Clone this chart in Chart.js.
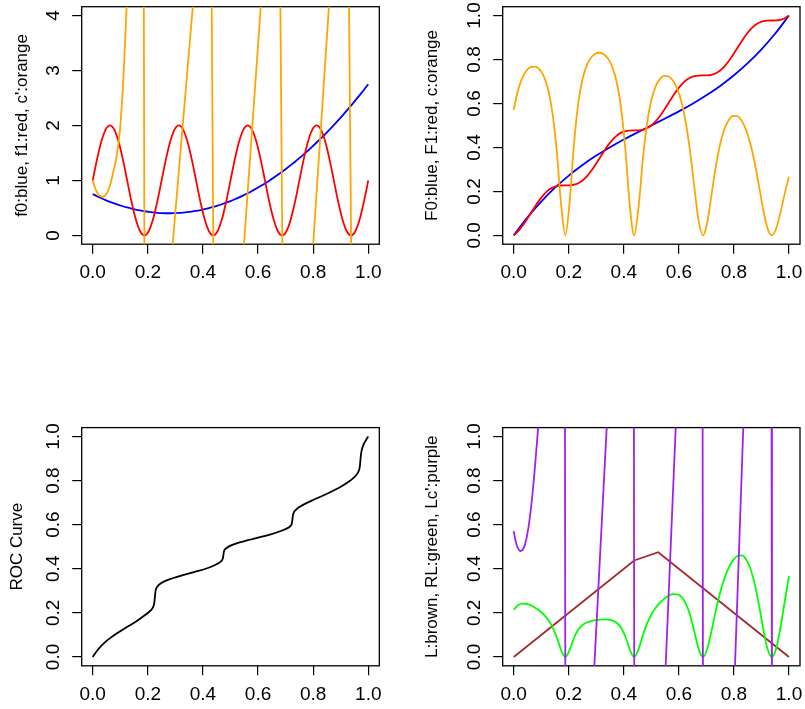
<!DOCTYPE html>
<html>
<head>
<meta charset="utf-8">
<script src="https://cdn.jsdelivr.net/npm/chart.js@4.4.1/dist/chart.umd.min.js"></script>
<style>
    body { margin: 0; background: #fff; }
    #wrap { position: relative; width: 805px; height: 709px; }
    canvas { position: absolute; }
</style>
</head>
<body>
<div id="wrap">
    <canvas id="p1" width="402" height="354" style="left:0px;top:0px"></canvas>
    <canvas id="p2" width="403" height="354" style="left:402px;top:0px"></canvas>
    <canvas id="p3" width="402" height="355" style="left:0px;top:354px"></canvas>
    <canvas id="p4" width="403" height="355" style="left:402px;top:354px"></canvas>
</div>
<script>
// ===== Data =====
const xTicks = [0, 0.2, 0.4, 0.6, 0.8, 1.0];
const yTicksDensity = [0, 1, 2, 3, 4];
const yTicksUnit = [0, 0.2, 0.4, 0.6, 0.8, 1.0];

// shared x grid for the wavy curves
const xGrid = [0, 0.0156, 0.0313, 0.0469, 0.0625, 0.0781, 0.0938, 0.1094, 0.125, 0.1406, 0.1563, 0.1719,
    0.1875, 0.2031, 0.2188, 0.2344, 0.25, 0.2656, 0.2813, 0.2969, 0.3125, 0.3281, 0.3438, 0.3594,
    0.375, 0.3906, 0.4063, 0.4219, 0.4375, 0.4531, 0.4688, 0.4844, 0.5, 0.5156, 0.5313, 0.5469,
    0.5625, 0.5781, 0.5938, 0.6094, 0.625, 0.6406, 0.6563, 0.6719, 0.6875, 0.7031, 0.7188, 0.7344,
    0.75, 0.7656, 0.7813, 0.7969, 0.8125, 0.8281, 0.8438, 0.8594, 0.875, 0.8906, 0.9063, 0.9219,
    0.9375, 0.9531, 0.9688, 0.9844, 1];

// panel 1
const f0Values = [0.75, 0.712, 0.6763, 0.6427, 0.6113, 0.5822, 0.5552, 0.5304, 0.5078, 0.4874, 0.4692, 0.4532,
    0.4395, 0.4279, 0.4185, 0.4113, 0.4063, 0.4034, 0.4028, 0.4044, 0.4082, 0.4142, 0.4224, 0.4327,
    0.4453, 0.4601, 0.4771, 0.4962, 0.5176, 0.5411, 0.5669, 0.5948, 0.625, 0.6573, 0.6919, 0.7286,
    0.7676, 0.8087, 0.852, 0.8976, 0.9453, 0.9952, 1.0474, 1.1017, 1.1582, 1.2169, 1.2778, 1.3409,
    1.4063, 1.4738, 1.5435, 1.6154, 1.6895, 1.7657, 1.8442, 1.9249, 2.0078, 2.0929, 2.1802, 2.2697,
    2.3613, 2.4552, 2.5513, 2.6495, 2.75];
const f1Values = [1, 1.383, 1.707, 1.924, 2, 1.924, 1.707, 1.383, 1, 0.617, 0.293, 0.076,
    0, 0.076, 0.293, 0.617, 1, 1.383, 1.707, 1.924, 2, 1.924, 1.707, 1.383,
    1, 0.617, 0.293, 0.076, 0, 0.076, 0.293, 0.617, 1, 1.383, 1.707, 1.924,
    2, 1.924, 1.707, 1.383, 1, 0.617, 0.293, 0.076, 0, 0.076, 0.293, 0.617,
    1, 1.383, 1.707, 1.924, 2, 1.924, 1.707, 1.383, 1, 0.617, 0.293, 0.076,
    0, 0.076, 0.293, 0.617, 1];
// c' leaves the frame, so its far points sit just outside the y range
const cPrimeX = [0, 0.005, 0.01, 0.015, 0.02, 0.028, 0.036, 0.045, 0.055, 0.065, 0.075, 0.085, 0.093,
    0.1, 0.107, 0.113, 0.118, 0.123, 0.13, 0.18465, 0.18835, 0.2589, 0.3943, 0.42929, 0.44021,
    0.5232, 0.6356, 0.67802, 0.69098, 0.7757, 0.8814, 0.92702, 0.94098, 1];
const cPrimeY = [1.0, 0.91, 0.84, 0.79, 0.75, 0.715, 0.70, 0.72, 0.80, 0.95, 1.16, 1.38, 1.64,
    1.98, 2.48, 3.04, 3.58, 4.17, 6, 6, -2, -2, 6, 6, -2,
    -2, 6, 6, -2, -2, 6, 6, -2, -2];

// panel 2
const cdfX = [0, 0.05, 0.1, 0.15, 0.2, 0.25, 0.3, 0.35, 0.4, 0.45, 0.5, 0.55, 0.6, 0.65, 0.7, 0.75, 0.8,
    0.85, 0.9, 0.95, 1];
const F0Values = [0, 0.0821, 0.154, 0.2169, 0.272, 0.3203, 0.363, 0.4012, 0.436, 0.4686, 0.5, 0.5314,
    0.564, 0.5988, 0.637, 0.6797, 0.728, 0.7831, 0.846, 0.9179, 1];
const F1Values = [0, 0.0187, 0.0429, 0.0714, 0.1023, 0.1331, 0.1617, 0.1859, 0.2046, 0.2172, 0.2242, 0.2269,
    0.2273, 0.2277, 0.2304, 0.2374, 0.25, 0.2687, 0.2929, 0.3214, 0.3523, 0.3831, 0.4117, 0.4359,
    0.4546, 0.4672, 0.4742, 0.4769, 0.4773, 0.4777, 0.4804, 0.4874, 0.5, 0.5187, 0.5429, 0.5714,
    0.6023, 0.6331, 0.6617, 0.6859, 0.7046, 0.7172, 0.7242, 0.7269, 0.7273, 0.7277, 0.7304, 0.7374,
    0.75, 0.7687, 0.7929, 0.8214, 0.8523, 0.8831, 0.9117, 0.9359, 0.9546, 0.9672, 0.9742, 0.9769,
    0.9773, 0.9777, 0.9804, 0.9874, 1];
const cValues = [0.5714, 0.6601, 0.7162, 0.7496, 0.7659, 0.7677, 0.7546, 0.7228, 0.6632, 0.5588, 0.3843, 0.1438,
    0, 0.151, 0.4117, 0.6001, 0.7111, 0.7741, 0.8091, 0.8263, 0.8305, 0.8228, 0.8016, 0.7617,
    0.6919, 0.573, 0.3804, 0.133, 0, 0.1233, 0.3407, 0.5093, 0.6154, 0.6778, 0.7116, 0.7253,
    0.7226, 0.7041, 0.6671, 0.6064, 0.5141, 0.3828, 0.2185, 0.0646, 0, 0.0589, 0.1865, 0.3152,
    0.4156, 0.4841, 0.5252, 0.5436, 0.5421, 0.5214, 0.4807, 0.418, 0.3325, 0.2278, 0.1184, 0.0324,
    0, 0.0301, 0.103, 0.189, 0.2667];

// panel 3
const rocX = [0, 0.02, 0.04, 0.07, 0.1, 0.13, 0.16, 0.19, 0.205, 0.215, 0.221, 0.224, 0.2255, 0.227, 0.229,
    0.234, 0.245, 0.26, 0.29, 0.33, 0.37, 0.41, 0.44, 0.462, 0.47, 0.4735, 0.475, 0.477, 0.485, 0.5,
    0.53, 0.56, 0.6, 0.64, 0.68, 0.705, 0.716, 0.722, 0.7245, 0.726, 0.729, 0.737, 0.75, 0.77, 0.8,
    0.85, 0.9, 0.935, 0.955, 0.966, 0.97, 0.972, 0.975, 0.981, 0.99, 1];
const rocY = [0, 0.035, 0.062, 0.092, 0.117, 0.14, 0.163, 0.19, 0.205, 0.218, 0.232, 0.25, 0.27, 0.29, 0.305,
    0.318, 0.332, 0.343, 0.357, 0.372, 0.386, 0.4, 0.415, 0.43, 0.44, 0.455, 0.47, 0.482, 0.493, 0.505,
    0.518, 0.529, 0.541, 0.554, 0.57, 0.583, 0.592, 0.603, 0.62, 0.638, 0.653, 0.667, 0.68, 0.694, 0.712,
    0.74, 0.772, 0.8, 0.823, 0.845, 0.87, 0.9, 0.93, 0.958, 0.98, 1];

// panel 4
const lossX = [0, 0.4375, 0.525, 1];
const lossY = [0, 0.4375, 0.475, 0];
const rlValues = [0.2143, 0.235, 0.2422, 0.2409, 0.2341, 0.2235, 0.2095, 0.1917, 0.1684, 0.1362, 0.0902, 0.0326,
    0, 0.0323, 0.0861, 0.1234, 0.1445, 0.1561, 0.163, 0.1671, 0.1695, 0.1704, 0.1693, 0.1648,
    0.1541, 0.1318, 0.0907, 0.033, 0, 0.0334, 0.0966, 0.1515, 0.1923, 0.2228, 0.2462, 0.2642,
    0.2773, 0.2847, 0.2842, 0.2722, 0.243, 0.1905, 0.1144, 0.0356, 0, 0.0358, 0.1192, 0.2113,
    0.2922, 0.3567, 0.4053, 0.4391, 0.4579, 0.4603, 0.4432, 0.4023, 0.3338, 0.2384, 0.1291, 0.0368,
    0, 0.037, 0.1314, 0.2504, 0.3667];
const lcPrimeX = [0, 0.006, 0.012, 0.018, 0.024, 0.032, 0.04, 0.047, 0.054, 0.061, 0.068, 0.075, 0.082,
    0.0895, 0.1, 0.15, 0.1858, 0.1878, 0.2738, 0.3569, 0.4362, 0.4382, 0.5365, 0.604, 0.6858, 0.6878,
    0.791, 0.8468, 0.9362, 0.9382, 1];
const lcPrimeY = [0.571, 0.53, 0.503, 0.487, 0.48, 0.485, 0.505, 0.54, 0.59, 0.655, 0.735, 0.83, 0.935,
    1.05, 1.25, 3, 1.5, -0.5, -0.5, 1.5, 1.5, -0.5, -0.5, 1.5, 1.5, -0.5,
    -0.5, 1.5, 1.5, -0.5, -0.5];

// ===== Helpers =====
const FONT = '"Liberation Sans", Arial, Helvetica, sans-serif';
const TICK_SIZE = 19;
const TITLE_SIZE = 17;

function toPoints(xs, ys) {
    return xs.map((x, i) => ({ x: x, y: ys[i] }));
}

function curve(xs, ys, color, order, smooth) {
    return {
        data: toPoints(xs, ys),
        borderColor: color,
        borderWidth: 1.8,
        pointRadius: 0,
        order: order,
        tension: 0,
        cubicInterpolationMode: smooth ? 'monotone' : 'default'
    };
}

// R style frame round the plot region
const boxPlugin = {
    id: 'rbox',
    beforeDatasetsDraw(chart) {
        const a = chart.chartArea;
        const ctx = chart.ctx;
        ctx.save();
        ctx.strokeStyle = '#000';
        ctx.lineWidth = 1.3;
        ctx.strokeRect(a.left, a.top, a.right - a.left, a.bottom - a.top);
        ctx.restore();
    }
};

// ===== Panel builder =====
function makePanel(id, p) {
    const canvas = document.getElementById(id);
    const W = canvas.width;
    const H = canvas.height;
    const yRange = p.yMax - p.yMin;
    const tickFont = { family: FONT, size: TICK_SIZE };

    return new Chart(canvas, {
        type: 'line',
        data: { datasets: p.datasets },
        plugins: [boxPlugin],
        options: {
            responsive: false,
            animation: false,
            events: [],
            layout: { padding: { left: 0, top: p.top, right: W - p.right, bottom: 0 } },
            plugins: { legend: { display: false }, tooltip: { enabled: false } },
            scales: {
                x: {
                    type: 'linear',
                    min: -0.04,
                    max: 1.04,
                    afterBuildTicks: s => { s.ticks = xTicks.map(v => ({ value: v })); },
                    afterFit: s => { s.height = H - p.bottom; s.paddingLeft = 0; s.paddingRight = 0; },
                    grid: { drawOnChartArea: false, drawTicks: true, tickLength: 9.5, lineWidth: 1.2, color: '#000' },
                    border: { display: false },
                    ticks: {
                        autoSkip: false, minRotation: 0, maxRotation: 0, padding: 8,
                        color: '#000', font: tickFont,
                        callback: v => v.toFixed(1)
                    }
                },
                y: {
                    type: 'linear',
                    min: p.yMin - 0.04 * yRange,
                    max: p.yMax + 0.04 * yRange,
                    afterBuildTicks: s => { s.ticks = p.yTicks.map(v => ({ value: v })); },
                    afterFit: s => { s.width = p.left; s.paddingTop = 0; s.paddingBottom = 0; },
                    grid: { drawOnChartArea: false, drawTicks: true, tickLength: 9.5, lineWidth: 1.2, color: '#000' },
                    border: { display: false },
                    ticks: {
                        autoSkip: false, minRotation: 90, maxRotation: 90, crossAlign: 'center',
                        padding: p.yPad, color: '#000', font: tickFont,
                        callback: v => v.toFixed(p.yDigits)
                    },
                    title: {
                        display: true, text: p.title, color: '#000',
                        font: { family: FONT, size: TITLE_SIZE },
                        padding: { top: p.titlePad, bottom: 0 }
                    }
                }
            }
        }
    });
}

// ===== Build the four panels =====
makePanel('p1', {
    left: 81.7, top: 6.7, right: 379.3, bottom: 244.2,
    yMin: 0, yMax: 4, yTicks: yTicksDensity, yDigits: 0, yPad: 13.6,
    title: "f0:blue, f1:red, c':orange", titlePad: 12.4,
    datasets: [
        curve(xGrid, f0Values, '#0000FF', 3, true),
        curve(xGrid, f1Values, '#FF0000', 2, true),
        curve(cPrimeX, cPrimeY, '#FFA500', 1, false)
    ]
});

makePanel('p2', {
    left: 100.7, top: 6.7, right: 398, bottom: 244.2,
    yMin: 0, yMax: 1, yTicks: yTicksUnit, yDigits: 1, yPad: 5.7,
    title: 'F0:blue, F1:red, c:orange', titlePad: 19.8,
    datasets: [
        curve(cdfX, F0Values, '#0000FF', 3, true),
        curve(xGrid, F1Values, '#FF0000', 2, true),
        curve(xGrid, cValues, '#FFA500', 1, true)
    ]
});

makePanel('p3', {
    left: 81.7, top: 73.6, right: 379.3, bottom: 311.8,
    yMin: 0, yMax: 1, yTicks: yTicksUnit, yDigits: 1, yPad: 5.7,
    title: 'ROC Curve', titlePad: 7.2,
    datasets: [
        curve(rocX, rocY, '#000000', 1, true)
    ]
});

makePanel('p4', {
    left: 100.7, top: 73.6, right: 398, bottom: 311.8,
    yMin: 0, yMax: 1, yTicks: yTicksUnit, yDigits: 1, yPad: 5.7,
    title: "L:brown, RL:green, Lc':purple", titlePad: 19.8,
    datasets: [
        curve(lossX, lossY, '#A52A2A', 3, false),
        curve(xGrid, rlValues, '#00FF00', 2, true),
        curve(lcPrimeX, lcPrimeY, '#A020F0', 1, false)
    ]
});
</script>
</body>
</html>
